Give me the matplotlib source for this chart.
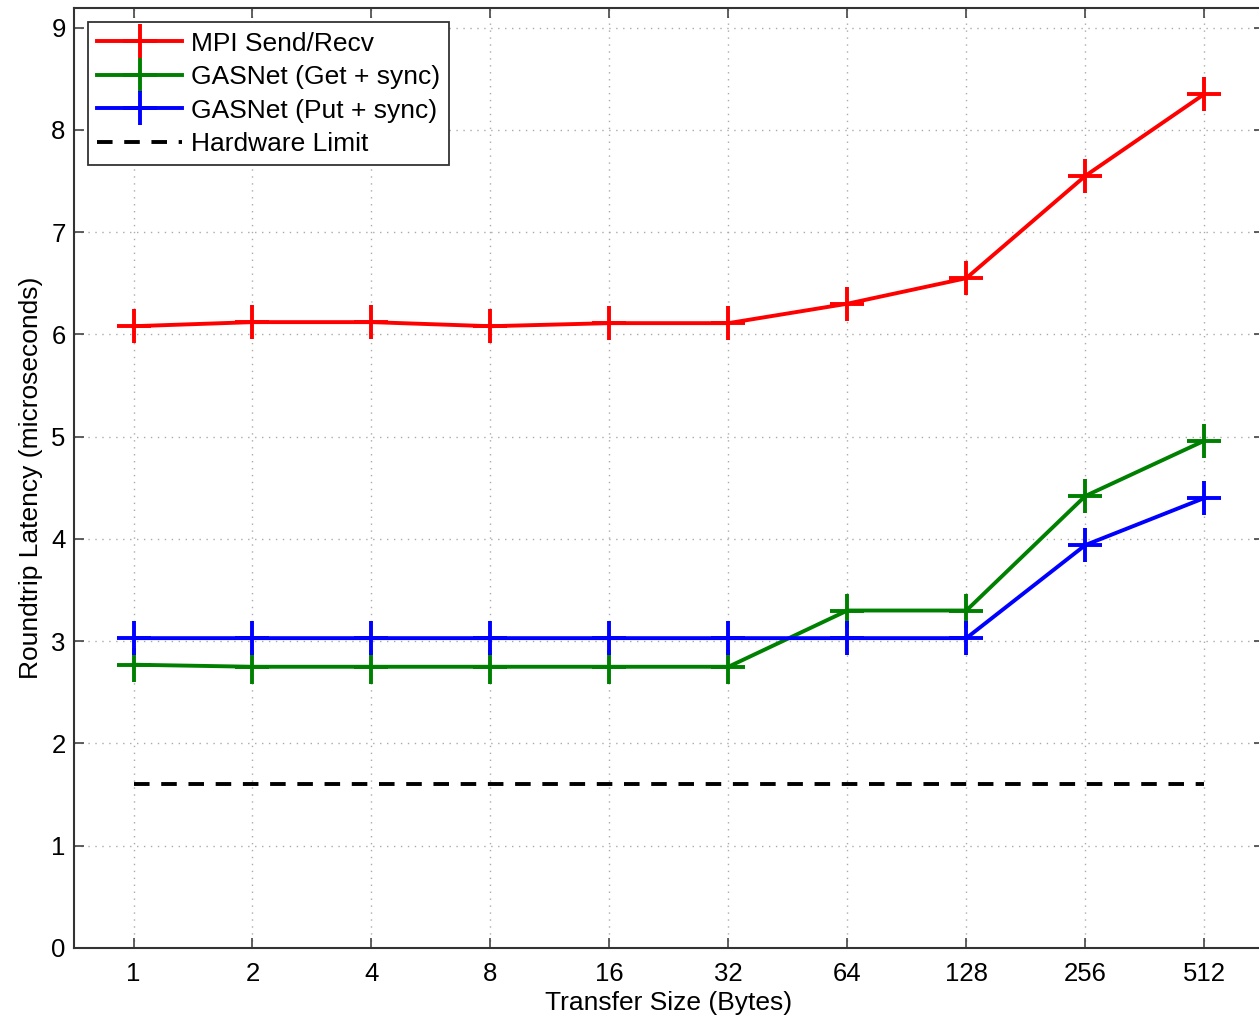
import matplotlib
matplotlib.use("Agg")
import matplotlib.pyplot as plt
import numpy as np

sizes = ["1", "2", "4", "8", "16", "32", "64", "128", "256", "512"]
mpi = [6.08, 6.12, 6.12, 6.08, 6.11, 6.11, 6.30, 6.55, 7.55, 8.35]
gas_get = [2.77, 2.75, 2.75, 2.75, 2.75, 2.75, 3.30, 3.30, 4.42, 4.96]
gas_put = [3.03, 3.03, 3.03, 3.03, 3.03, 3.03, 3.03, 3.03, 3.94, 4.40]
hw_limit = [1.6] * 10

plt.rcParams['font.family'] = ['Liberation Sans', 'DejaVu Sans']

fig = plt.figure(figsize=(12.59, 10.21), dpi=100)
ax = fig.add_axes([0.0588, 0.0715, 0.945, 0.9205])

x = np.arange(1, len(sizes) + 1)
lw = 2.8
ms = 24
mew = 2.8
ax.plot(x, mpi, color='#ff0000', lw=lw, marker='+', ms=ms, mew=mew, label='MPI Send/Recv')
ax.plot(x, gas_get, color='#008000', lw=lw, marker='+', ms=ms, mew=mew, label='GASNet (Get + sync)')
ax.plot(x, gas_put, color='#0000ff', lw=lw, marker='+', ms=ms, mew=mew, label='GASNet (Put + sync)')
ax.plot(x, hw_limit, color='black', lw=lw, ls=(0, (4, 3)), label='Hardware Limit')

ax.set_xlim(0.5, 10.5)
ax.set_ylim(0, 9.19)
ax.set_xticks(x)
ax.set_xticklabels(sizes)
ax.set_yticks(range(0, 10))
ax.tick_params(direction='in', top=True, right=True, length=7, width=1.2, labelsize=18.5,
               colors='#444444', labelcolor='black')
ax.tick_params(axis='x', pad=10)
ax.tick_params(axis='y', pad=6)
ax.grid(True, ls=(0, (1, 4)), color='#aaaaaa', lw=1)
for s in ax.spines.values():
    s.set_linewidth(1.5)
    s.set_color('#333333')

ax.set_xlabel('Transfer Size (Bytes)', fontsize=19, labelpad=4)
ax.set_ylabel('Roundtrip Latency (microseconds)', fontsize=19, labelpad=6)

leg = ax.legend(loc='upper left', bbox_to_anchor=(0.0118, 0.985), fontsize=19, handlelength=3.2,
                frameon=True, fancybox=False, edgecolor='#333333', framealpha=1,
                borderpad=0.35, labelspacing=0.36, handletextpad=0.35, borderaxespad=0)
leg.get_frame().set_linewidth(1.3)

fig.savefig('out.png', dpi=100)
